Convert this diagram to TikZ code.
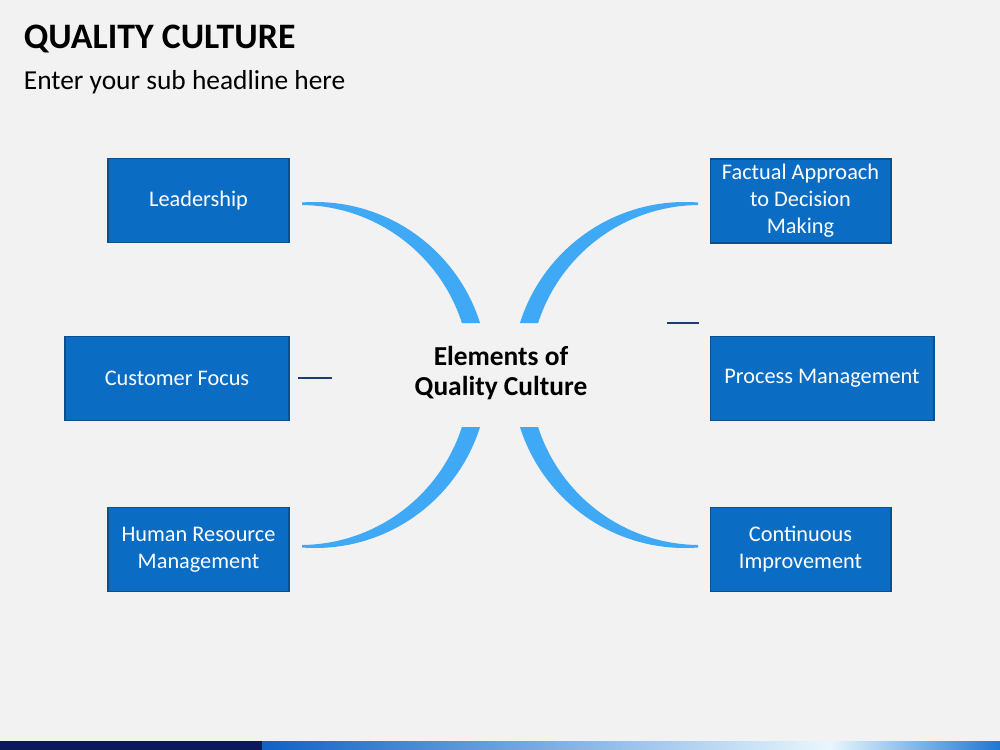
\documentclass[tikz,border=0pt]{standalone}
\usepackage{fontspec}
\setmainfont{Carlito}
\usepackage{tikz}
\definecolor{bggray}{HTML}{F2F2F2}
\definecolor{boxblue}{HTML}{0A6CC2}
\definecolor{arcblue}{HTML}{3FA9F5}
\definecolor{ticknavy}{HTML}{1F3B73}
\definecolor{barnavy}{HTML}{0A1A5C}
\definecolor{barblue}{HTML}{0E62C8}
\definecolor{barlight}{HTML}{E8F7FD}
\tikzset{
every picture/.style={
line width=1pt
},
box/.style={fill=boxblue, draw=boxblue!75!black, line width=0.6pt, text=white,
  align=center, inner sep=0pt, minimum width=3.62cm, minimum height=1.68cm,
  font=\fontsize{12.7}{15.4}\selectfont},
widebox/.style={box, minimum width=4.48cm},
crescent/.style={fill=arcblue, even odd rule},
tick/.style={draw=ticknavy, line width=1.7pt}
}

\begin{document}
\begin{tikzpicture}[x=0.02cm, y=-0.02cm]
  % slide background
  \fill[bggray] (0,0) rectangle (1000,750);
  \fill[barnavy] (0,741) rectangle (262,750);
  \shade[left color=barblue, right color=barlight] (262,741) rectangle (830,750);
  \shade[left color=barlight, right color=barblue!70!arcblue] (830,741) rectangle (1000,750);

  % headings
  \node[anchor=base west, inner sep=0pt, font=\fontsize{20.4}{22}\selectfont\bfseries] at (23, 49) (T) {QUALITY CULTURE};
  \node[anchor=base west, inner sep=0pt, font=\fontsize{15.6}{18}\selectfont] at (23, 90) (S) {Enter your sub headline here};

  % left crescents
  \begin{scope}
    \clip (302,190) rectangle (500,323) (302,427) rectangle (500,560);
    \fill[crescent] (315,375) circle[radius=173] (300,375) circle[radius=170];
  \end{scope}
  % right crescents
  \begin{scope}
    \clip (698,190) rectangle (500,323) (698,427) rectangle (500,560);
    \fill[crescent] (685,375) circle[radius=173] (700,375) circle[radius=170];
  \end{scope}

  \node[align=center, font=\fontsize{15.6}{17}\selectfont\bfseries] at (501, 373) (E) {Elements of\\Quality Culture};

  % elements
  \node[box] at (198.5, 200.5) (LD) {Leadership};
  \node[widebox] at (177, 378.5) (CF) {Customer Focus};
  \node[box] at (198.5, 549.5) (HR) {Human Resource\\Management};
  \node[box] at (800.5, 201) (FA) {Factual Approach\\to Decision\\Making};
  \node[widebox] at (822, 378.5) (PM) {Process Management};
  \node[box] at (800.5, 549.5) (CI) {Continuous\\Improvement};

  \draw[tick] (298,378) -- (332,378);
  \draw[tick] (667,323) -- (699,323);
\end{tikzpicture}
\end{document}
